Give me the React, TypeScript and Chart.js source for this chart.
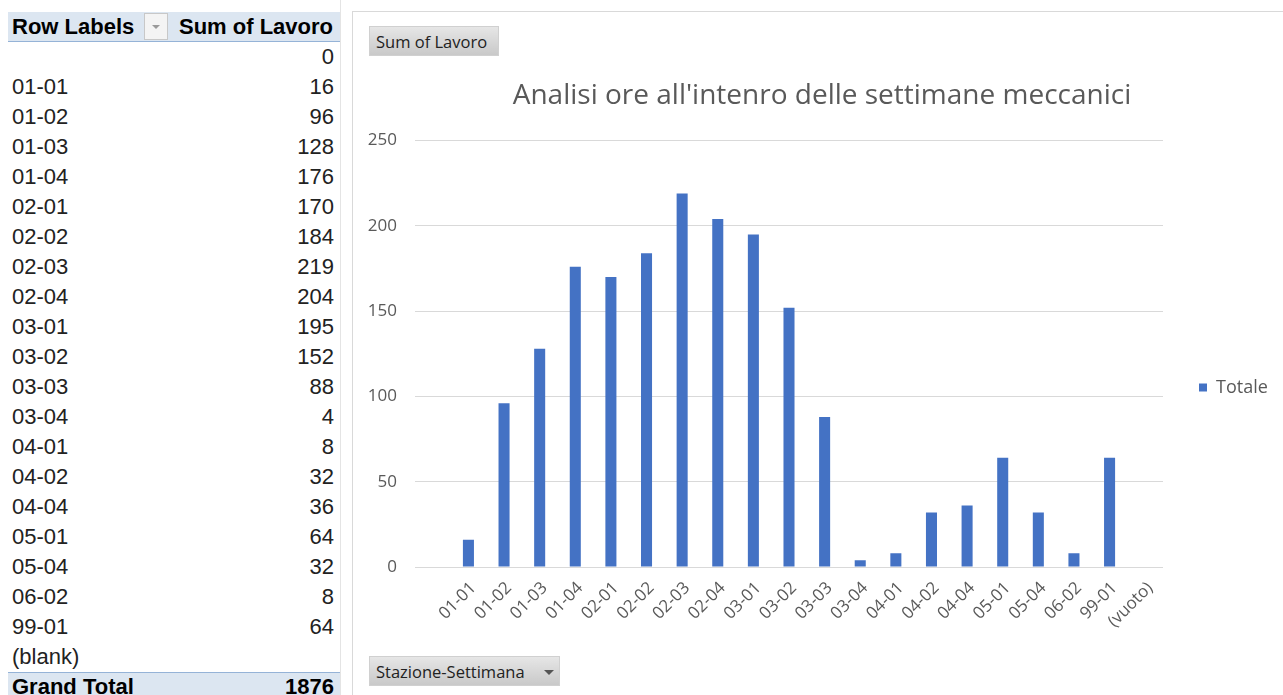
import React, { useEffect, useRef } from "react";
import { Chart, registerables } from "chart.js";

Chart.register(...registerables);

// ---- Data ----
const stationWeeks: string[] = [
  "", "01-01", "01-02", "01-03", "01-04", "02-01", "02-02", "02-03", "02-04",
  "03-01", "03-02", "03-03", "03-04", "04-01", "04-02", "04-04", "05-01",
  "05-04", "06-02", "99-01",
];
const hoursWorked: number[] = [
  0, 16, 96, 128, 176, 170, 184, 219, 204, 195, 152, 88, 4, 8, 32, 36, 64, 32, 8, 64,
];
const blankTableLabel = "(blank)";
const blankChartLabel = "(vuoto)";
const yTicks: number[] = [0, 50, 100, 150, 200, 250];

const chartLabels: string[] = [...stationWeeks, blankChartLabel];
const chartValues: (number | null)[] = [...hoursWorked, null];
const grandTotal = hoursWorked.reduce((a, b) => a + b, 0);

const TITLE = "Analisi ore all'intenro delle settimane meccanici";
const SERIES = "Totale";

const FONT = "'Open Sans', 'Noto Sans', sans-serif";
const TABLE_FONT = "'Liberation Sans', Arial, sans-serif";
const GREY_TEXT = "#595959";
const BAR_BLUE = "#4472C4";

const CANVAS_LEFT = 361;
const CANVAS_W = 1283 - CANVAS_LEFT;
const CANVAS_H = 695;
const LEGEND_W = 120;
const LEGEND_SHIFT_Y = 59;

const legendPlacementPlugin = {
  id: "legendPlacement",
  afterInit(chart: any) {
    const lg = chart.legend;
    if (!lg || lg.__patched) return;
    const orig = lg.fit.bind(lg);
    lg.fit = function () {
      orig();
      this.width = LEGEND_W;
    };
    lg.__patched = true;
  },
  afterLayout(chart: any) {
    const lg = chart.legend;
    if (!lg) return;
    lg.top += LEGEND_SHIFT_Y;
    lg.bottom += LEGEND_SHIFT_Y;
  },
};

function ChartBox() {
  const ref = useRef<HTMLCanvasElement | null>(null);
  useEffect(() => {
    if (!ref.current) return;
    const chart = new Chart(ref.current, {
      type: "bar",
      data: {
        labels: chartLabels,
        datasets: [
          {
            label: SERIES,
            data: chartValues as any,
            backgroundColor: BAR_BLUE,
            borderWidth: 0,
            barPercentage: 0.31,
            categoryPercentage: 1,
          },
        ],
      },
      plugins: [legendPlacementPlugin],
      options: {
        responsive: false,
        animation: false,
        devicePixelRatio: 1,
        layout: { padding: { left: 0, right: 0, top: 0, bottom: 38 } },
        plugins: {
          title: {
            display: true,
            text: TITLE,
            color: GREY_TEXT,
            font: { family: FONT, size: 28, weight: "normal" as any },
            padding: { top: 79, bottom: 28 },
          },
          legend: {
            display: true,
            position: "right",
            labels: {
              color: GREY_TEXT,
              font: { family: FONT, size: 18 },
              boxWidth: 8,
              boxHeight: 8,
              padding: 36,
            },
          },
          tooltip: { enabled: false },
        },
        scales: {
          x: {
            grid: { display: false, drawTicks: false },
            border: { display: false },
            ticks: {
              color: GREY_TEXT,
              font: { family: FONT, size: 17 },
              minRotation: 45,
              maxRotation: 45,
              autoSkip: false,
              padding: 11,
              labelOffset: 5,
            },
            afterFit(scale: any) {
              scale.height = 90;
            },
          },
          y: {
            min: 0,
            max: 250,
            grid: { color: "#D9D9D9", drawTicks: false, lineWidth: 1 },
            border: { display: false },
            afterBuildTicks(scale: any) {
              scale.ticks = yTicks.map((v) => ({ value: v }));
            },
            ticks: {
              color: GREY_TEXT,
              font: { family: FONT, size: 17 },
              padding: 18,
            },
            afterFit(scale: any) {
              scale.width = 54;
            },
          },
        },
      },
    });
    return () => chart.destroy();
  }, []);
  return (
    <canvas
      ref={ref}
      width={CANVAS_W}
      height={CANVAS_H}
      style={{ position: "absolute", left: CANVAS_LEFT, top: 0, width: CANVAS_W, height: CANVAS_H }}
    />
  );
}

const btnStyle: React.CSSProperties = {
  position: "absolute",
  background: "linear-gradient(#e6e6e6, #c9c9c9)",
  border: "1px solid #d0d0d0",
  boxSizing: "border-box",
  fontFamily: FONT,
  color: "#222",
  display: "flex",
  alignItems: "center",
  whiteSpace: "nowrap",
};

export default function App() {
  const rowH = 30;
  const rows = [...stationWeeks.map((s, i) => ({ label: s, value: String(hoursWorked[i]) })), { label: blankTableLabel, value: "" }];
  return (
    <div
      style={{
        position: "absolute",
        left: 0,
        top: 0,
        width: 1283,
        height: 695,
        overflow: "hidden",
        background: "#fff",
      }}
    >
      {/* pivot table */}
      <div
        style={{
          position: "absolute",
          left: 8,
          top: 12,
          width: 332,
          height: 30,
          background: "#DCE6F1",
          borderBottom: "1px solid #95B3D7",
          boxSizing: "border-box",
        }}
      />
      <div style={{ position: "absolute", left: 12, top: 12, height: 30, lineHeight: "30px", fontFamily: TABLE_FONT, fontSize: 22, fontWeight: "bold", color: "#000" }}>
        Row Labels
      </div>
      <div
        style={{
          position: "absolute",
          left: 144,
          top: 13,
          width: 24,
          height: 27,
          border: "1px solid #c8c8c8",
          background: "#f4f4f4",
          boxSizing: "border-box",
        }}
      >
        <div
          style={{
            position: "absolute",
            left: 7,
            top: 11,
            width: 0,
            height: 0,
            borderLeft: "4px solid transparent",
            borderRight: "4px solid transparent",
            borderTop: "4px solid #9a9a9a",
          }}
        />
      </div>
      <div style={{ position: "absolute", right: 1283 - 333, top: 12, height: 30, lineHeight: "30px", fontFamily: TABLE_FONT, fontSize: 22, fontWeight: "bold", color: "#000", whiteSpace: "nowrap" }}>
        Sum of Lavoro
      </div>
      {rows.map((r, i) => (
        <React.Fragment key={i}>
          <div style={{ position: "absolute", left: 12, top: 42 + i * rowH, height: rowH, lineHeight: rowH + "px", fontFamily: TABLE_FONT, fontSize: 22, color: "#222" }}>
            {r.label}
          </div>
          <div style={{ position: "absolute", right: 1283 - 334, top: 42 + i * rowH, height: rowH, lineHeight: rowH + "px", fontFamily: TABLE_FONT, fontSize: 22, color: "#222" }}>
            {r.value}
          </div>
        </React.Fragment>
      ))}
      <div
        style={{
          position: "absolute",
          left: 8,
          top: 42 + rows.length * rowH,
          width: 332,
          height: 30,
          background: "#DCE6F1",
          borderTop: "1px solid #95B3D7",
          boxSizing: "border-box",
        }}
      />
      <div style={{ position: "absolute", left: 12, top: 42 + rows.length * rowH, height: 30, lineHeight: "30px", fontFamily: TABLE_FONT, fontSize: 22, fontWeight: "bold", color: "#000" }}>
        Grand Total
      </div>
      <div style={{ position: "absolute", right: 1283 - 334, top: 42 + rows.length * rowH, height: 30, lineHeight: "30px", fontFamily: TABLE_FONT, fontSize: 22, fontWeight: "bold", color: "#000" }}>
        {grandTotal}
      </div>
      {/* sheet gridline and chart border */}
      <div style={{ position: "absolute", left: 340, top: 0, width: 1, height: 695, background: "#e4e4e4" }} />
      <div style={{ position: "absolute", left: 352, top: 11, width: 931, height: 690, borderLeft: "1px solid #d9d9d9", borderTop: "1px solid #d9d9d9", boxSizing: "border-box" }} />

      <ChartBox />

      {/* pivot chart field buttons */}
      <div style={{ ...btnStyle, left: 369, top: 26, width: 130, height: 30, fontSize: 16.5, paddingLeft: 6 }}>Sum of Lavoro</div>
      <div style={{ ...btnStyle, left: 369, top: 656, width: 191, height: 30, fontSize: 16.5, paddingLeft: 6 }}>
        Stazione-Settimana
        <div
          style={{
            position: "absolute",
            left: 174,
            top: 13,
            width: 0,
            height: 0,
            borderLeft: "5px solid transparent",
            borderRight: "5px solid transparent",
            borderTop: "5px solid #555",
          }}
        />
      </div>
    </div>
  );
}
